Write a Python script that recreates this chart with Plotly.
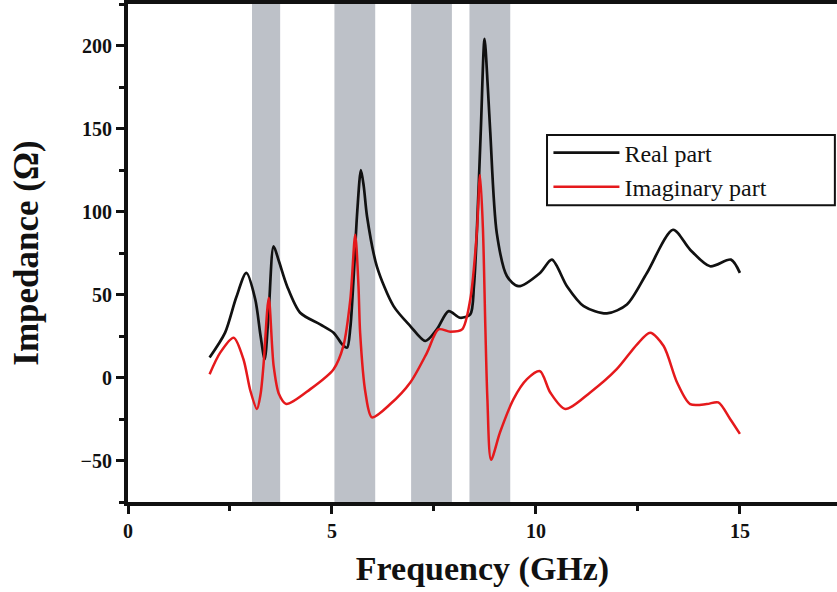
import plotly.graph_objects as go

# Frequency sweep (GHz) and impedance (Ohm)
real_freq = [2.0, 2.38, 2.65, 2.9, 3.12, 3.25, 3.35, 3.45, 3.57, 3.70, 3.90, 4.22, 4.71, 5.04,
             5.25, 5.37, 5.45, 5.53, 5.62, 5.71, 5.78, 5.86, 6.10, 6.51, 6.92, 7.29, 7.57, 7.86,
             8.14, 8.39, 8.48, 8.55, 8.65, 8.74, 8.82, 8.88, 9.04, 9.29, 9.57, 10.1, 10.39,
             10.76, 11.17, 11.74, 12.23, 12.72, 13.36, 13.78, 14.27, 14.78, 15.0]
real_part = [12, 27, 48, 63, 47, 25, 11, 40, 79, 70, 55, 39, 32, 27,
             20, 18, 30, 60, 100, 125, 115, 97, 67, 43, 31, 22, 29, 40,
             36, 38, 55, 87, 150, 204, 175, 148, 87, 61, 55, 63, 71,
             55, 43, 38.6, 44, 63, 89, 77, 67, 71, 63]

imag_freq = [2.0, 2.26, 2.59, 2.83, 3.0, 3.16, 3.25, 3.32, 3.45, 3.57, 3.70, 3.88, 4.47, 5.04,
             5.28, 5.45, 5.57, 5.65, 5.69, 5.82, 5.98, 6.43, 6.92, 7.33, 7.61, 7.90, 8.19,
             8.39, 8.55, 8.63, 8.70, 8.76, 8.81, 8.90, 9.12, 9.45, 9.78, 10.1, 10.35, 10.72,
             11.33, 11.98, 12.48, 12.80, 13.13, 13.46, 13.78, 14.19, 14.47, 14.76, 15.0]
imag_part = [2, 15, 24, 11, -8, -19, -10, 7, 48, 7, -10, -16, -7, 5,
             19, 47, 86, 55, 27, -9, -24, -16, -3, 15, 29, 27.6, 29,
             47, 87, 122, 90, 30, -13, -49.5, -33, -13, -1, 3.8, -9, -19,
             -9, 5, 20, 27, 19, -3, -16, -16, -15, -25, -34]

# Highlighted frequency bands (GHz)
band_start = [3.04, 5.06, 6.94, 8.37]
band_end = [3.73, 6.06, 7.94, 9.37]

serif = "Liberation Serif, Times New Roman, serif"

fig = go.Figure()
fig.add_trace(go.Scatter(x=real_freq, y=real_part, mode="lines", name="Real part",
                         line=dict(color="#111111", width=2.7, shape="spline", smoothing=0.8)))
fig.add_trace(go.Scatter(x=imag_freq, y=imag_part, mode="lines", name="Imaginary part",
                         line=dict(color="#e5191c", width=2.5, shape="spline", smoothing=0.8)))

for x0, x1 in zip(band_start, band_end):
    fig.add_shape(type="rect", xref="x", yref="paper", x0=x0, x1=x1, y0=0, y1=1,
                  fillcolor="#bdc1c8", line=dict(width=0), layer="below")

# framed panel behind the legend entries
fig.add_shape(type="rect", xref="paper", yref="paper", x0=0.591, x1=0.997, y0=0.596, y1=0.737,
              fillcolor="white", line=dict(color="#111111", width=2), layer="above")

fig.update_layout(
    width=837, height=592,
    margin=dict(l=128, r=0, t=4, b=90),
    plot_bgcolor="white", paper_bgcolor="white",
    font=dict(family=serif, color="#111111"),
    legend=dict(x=0.593, y=0.746, xanchor="left", yanchor="top",
                borderwidth=0, bgcolor="rgba(0,0,0,0)",
                font=dict(size=24, family=serif), itemwidth=66,
                tracegroupgap=0),
)
fig.update_xaxes(
    range=[0, 17.38], tickvals=[0, 5, 10, 15], ticktext=["0", "5", "10", "15"],
    ticks="outside", ticklen=8, tickwidth=3, tickcolor="#111111",
    minor=dict(dtick=2.5, tick0=0, ticks="outside", ticklen=5, tickwidth=3, tickcolor="#111111"),
    showline=True, linewidth=4, linecolor="#111111", mirror=True,
    showgrid=False, zeroline=False,
    tickfont=dict(size=20, family=serif, weight="bold"),
    title=dict(text="<b>Frequency (GHz)</b>", font=dict(size=34, family=serif), standoff=16),
)
fig.update_yaxes(
    range=[-75, 225], tickvals=[-50, 0, 50, 100, 150, 200],
    ticks="outside", ticklen=8, tickwidth=3, tickcolor="#111111",
    minor=dict(dtick=25, tick0=0, ticks="outside", ticklen=5, tickwidth=3, tickcolor="#111111"),
    showline=True, linewidth=4, linecolor="#111111", mirror=False,
    showgrid=False, zeroline=False,
    tickfont=dict(size=20, family=serif, weight="bold"),
    title=dict(text="<b>Impedance (Ω)</b>", font=dict(size=35, family=serif), standoff=32),
)

fig.write_html("out.html")
